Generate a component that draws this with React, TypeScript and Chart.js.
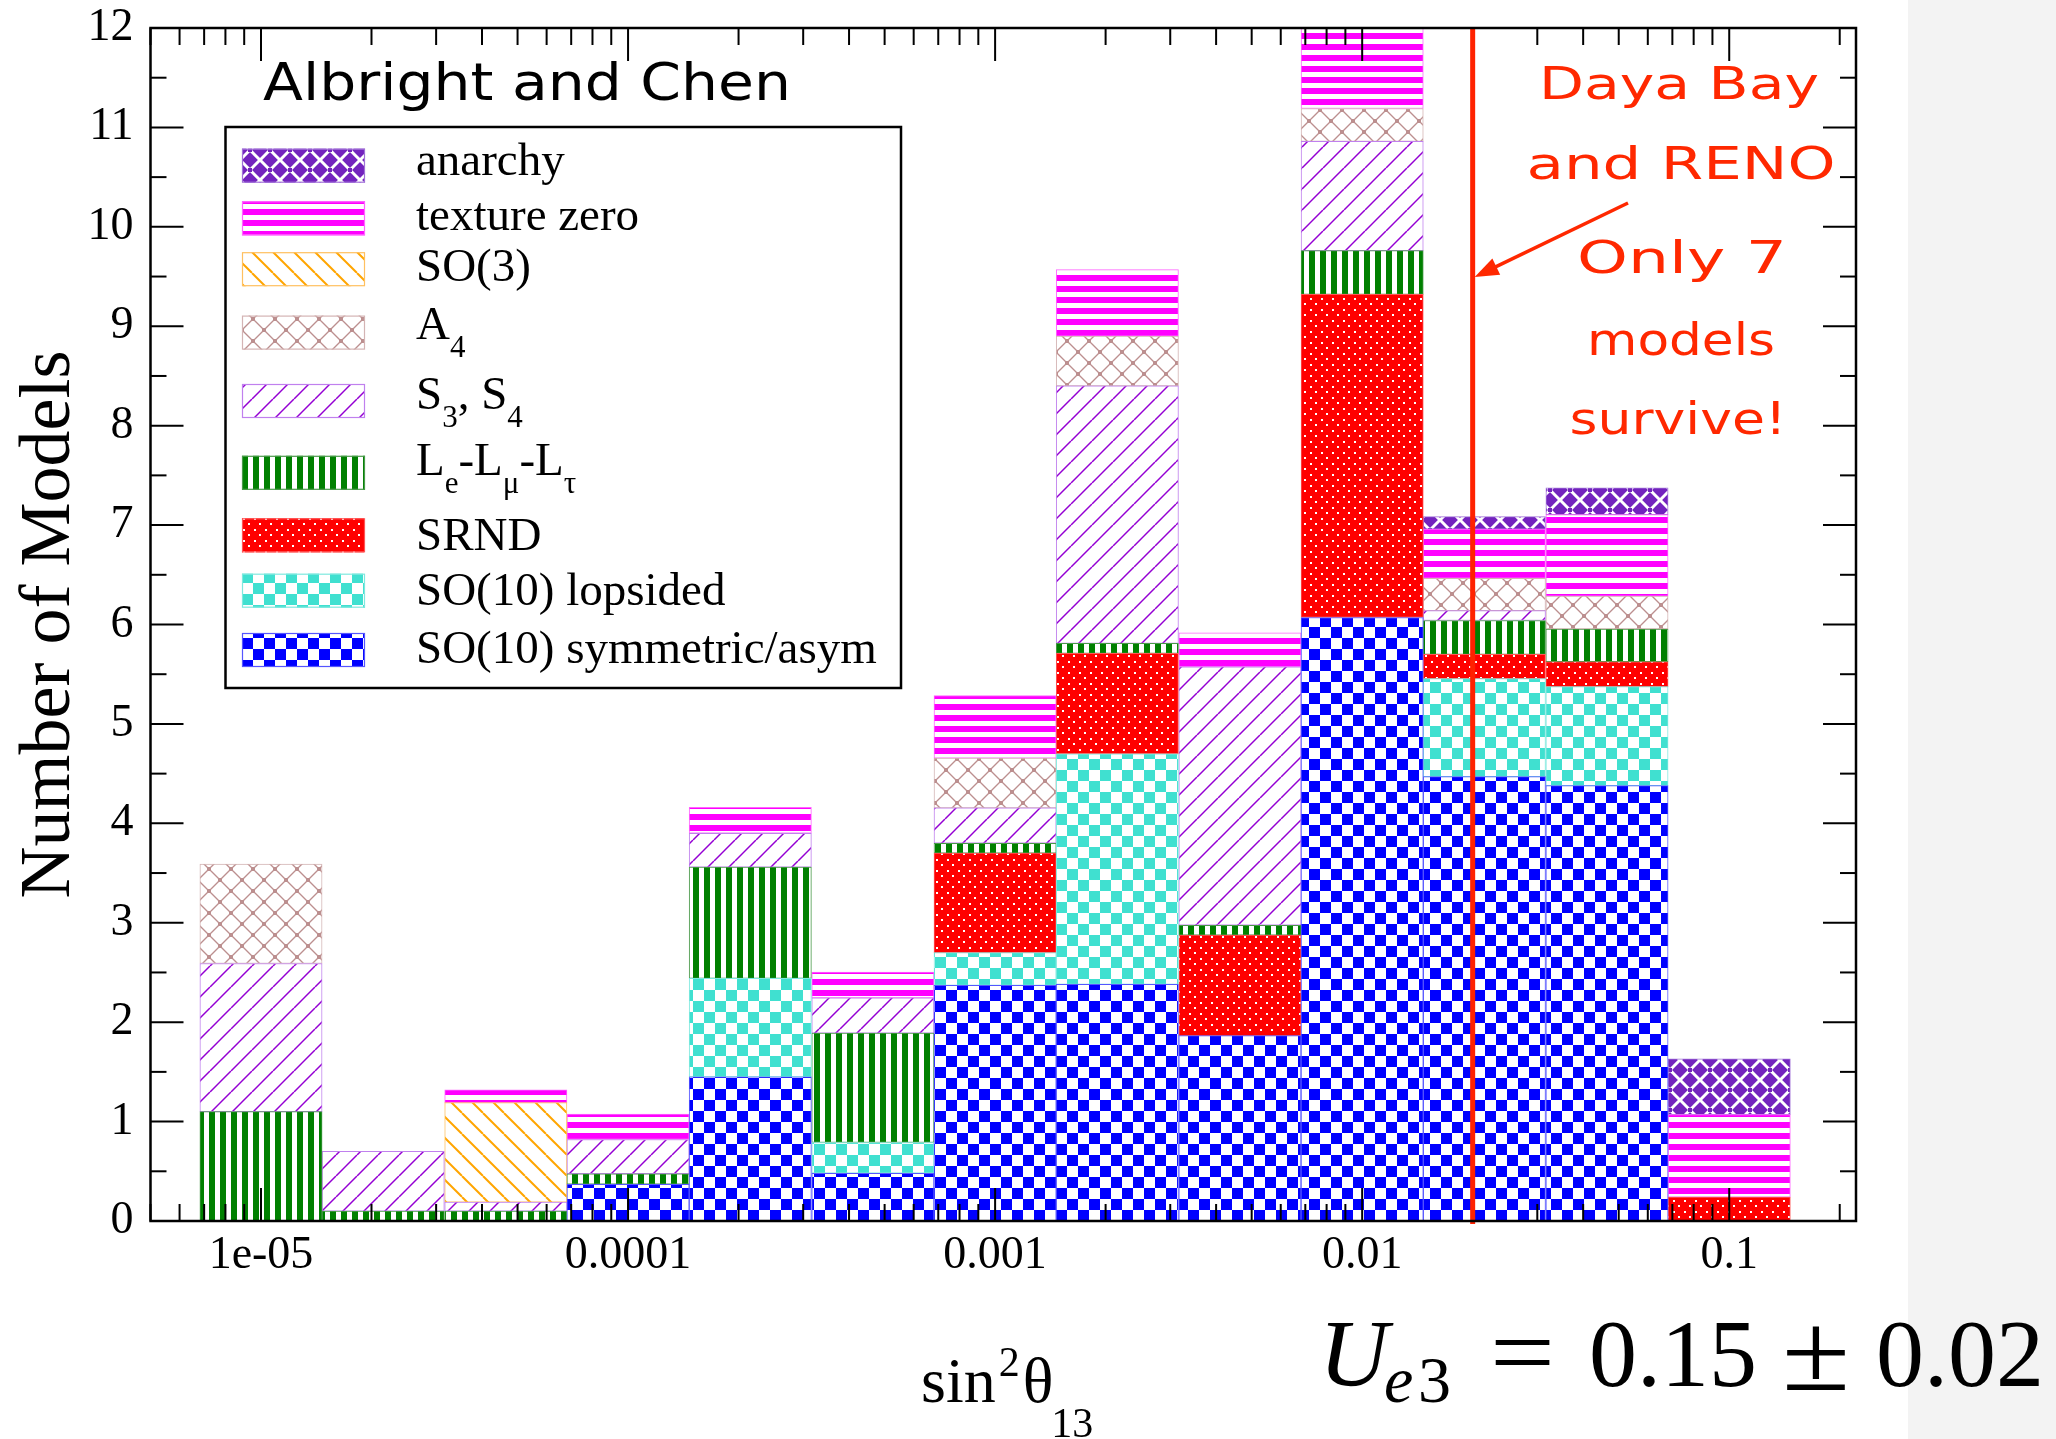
import { useEffect, useRef } from 'react';
import { Chart, registerables } from 'chart.js';

Chart.register(...registerables);

// ---------- data ----------
// bin centres, as log10(sin^2 theta13)
const binCenterExponents = [-5, -4.667, -4.333, -4, -3.667, -3.333, -3, -2.667, -2.333, -2, -1.667, -1.333, -1];

// stacked series (bottom to top)
const so10Symmetric = [0, 0, 0, 0.37, 1.45, 0.48, 2.37, 2.38, 1.865, 6.07, 4.47, 4.38, 0];
const so10Lopsided = [0, 0, 0, 0, 0.99, 0.31, 0.33, 2.32, 0, 0, 0.985, 0.995, 0];
const srnd = [0, 0, 0, 0, 0, 0, 1.0, 1.01, 1.01, 3.25, 0.245, 0.25, 0.24];
const leLmuLtau = [1.1, 0.1, 0.1, 0.105, 1.12, 1.1, 0.1, 0.1, 0.1, 0.44, 0.34, 0.33, 0];
const s3s4 = [1.49, 0.6, 0.09, 0.345, 0.34, 0.355, 0.356, 2.59, 2.6, 1.1, 0.1, 0, 0];
const a4 = [1.0, 0, 0, 0, 0, 0, 0.5, 0.5, 0, 0.33, 0.325, 0.33, 0];
const so3 = [0, 0, 1.0, 0, 0, 0, 0, 0, 0, 0, 0, 0, 0];
const textureZero = [0, 0, 0.13, 0.255, 0.26, 0.26, 0.63, 0.67, 0.34, 1.0, 0.495, 0.82, 0.83];
const anarchy = [0, 0, 0, 0, 0, 0, 0, 0, 0, 0, 0.125, 0.27, 0.56];

// axes
const xMinValue = 5e-6;
const xMaxValue = 0.2215;
const xTickExponents = [-5, -4, -3, -2, -1];
const xTickLabels = ['1e-05', '0.0001', '0.001', '0.01', '0.1'];
const yTickValues = [0, 1, 2, 3, 4, 5, 6, 7, 8, 9, 10, 11, 12];
const experimentValue = 0.02; // Daya Bay / RENO line

const SERIF = '"Liberation Serif", "Times New Roman", serif';
const HAND = '"DejaVu Sans", sans-serif';

function tile(w: number, h: number, draw: (c: CanvasRenderingContext2D) => void): CanvasPattern {
  const cv = document.createElement('canvas');
  cv.width = w;
  cv.height = h;
  const c = cv.getContext('2d')!;
  draw(c);
  return c.createPattern(cv, 'repeat')!;
}

function line(c: CanvasRenderingContext2D, x1: number, y1: number, x2: number, y2: number) {
  c.beginPath();
  c.moveTo(x1, y1);
  c.lineTo(x2, y2);
  c.stroke();
}

function makePatterns() {
  const checker = (col: string) =>
    tile(22, 22, (c) => {
      c.fillStyle = '#fff';
      c.fillRect(0, 0, 22, 22);
      c.fillStyle = col;
      c.fillRect(0, 0, 11, 11);
      c.fillRect(11, 11, 11, 11);
    });
  return {
    blue: checker('#0000ff'),
    turq: checker('#40e0d0'),
    red: tile(11, 11, (c) => {
      c.fillStyle = '#ff0000';
      c.fillRect(0, 0, 11, 11);
      c.fillStyle = '#fff';
      c.fillRect(1, 1, 2, 2);
      c.fillRect(6, 6, 2, 2);
    }),
    green: tile(11, 4, (c) => {
      c.fillStyle = '#fff';
      c.fillRect(0, 0, 11, 4);
      c.fillStyle = '#008000';
      c.fillRect(0, 0, 6, 4);
    }),
    magenta: tile(4, 11, (c) => {
      c.fillStyle = '#fff';
      c.fillRect(0, 0, 4, 11);
      c.fillStyle = '#ff00ff';
      c.fillRect(0, 0, 4, 6);
    }),
    violet: tile(21, 21, (c) => {
      c.fillStyle = '#fff';
      c.fillRect(0, 0, 21, 21);
      c.strokeStyle = '#9400d3';
      c.lineWidth = 1.5;
      for (const o of [-21, 0, 21]) line(c, o, 21, o + 21, 0);
    }),
    orange: tile(21, 21, (c) => {
      c.fillStyle = '#fff';
      c.fillRect(0, 0, 21, 21);
      c.strokeStyle = '#ffa500';
      c.lineWidth = 2;
      for (const o of [-21, 0, 21]) line(c, o, 0, o + 21, 21);
    }),
    rosy: tile(22, 22, (c) => {
      c.fillStyle = '#fff';
      c.fillRect(0, 0, 22, 22);
      c.strokeStyle = '#bc8f8f';
      c.lineWidth = 1.3;
      line(c, 0, 0, 22, 22);
      line(c, 22, 0, 0, 22);
      c.fillStyle = '#bc8f8f';
      c.fillRect(-2, -2, 4, 4);
      c.fillRect(20, -2, 4, 4);
      c.fillRect(-2, 20, 4, 4);
      c.fillRect(20, 20, 4, 4);
      c.fillRect(9, 9, 4, 4);
    }),
    purple: tile(20, 20, (c) => {
      c.fillStyle = '#7323be';
      c.fillRect(0, 0, 20, 20);
      c.strokeStyle = '#fff';
      c.lineWidth = 3;
      line(c, 0, 0, 20, 20);
      line(c, 20, 0, 0, 20);
      c.fillStyle = '#7323be';
      c.fillRect(8, 8, 4, 4);
    }),
  };
}

function drawRich(c: CanvasRenderingContext2D, text: string, x: number, baseline: number, size: number, subSize: number, drop: number) {
  const parts = text.split(/(_.)/);
  let cx = x;
  for (const p of parts) {
    if (!p) continue;
    if (p.startsWith('_')) {
      const s = p.slice(1);
      c.font = `${subSize}px ${SERIF}`;
      c.fillText(s, cx, baseline + drop);
      cx += c.measureText(s).width;
    } else {
      c.font = `${size}px ${SERIF}`;
      c.fillText(p, cx, baseline);
      cx += c.measureText(p).width;
    }
  }
}

function fitText(c: CanvasRenderingContext2D, text: string, x: number, baseline: number, font: string, targetWidth: number, center: boolean) {
  c.font = font;
  const w = c.measureText(text).width;
  const s = targetWidth / w;
  c.save();
  c.translate(center ? x - targetWidth / 2 : x, baseline);
  c.scale(s, 1);
  c.textAlign = 'left';
  c.textBaseline = 'alphabetic';
  c.fillText(text, 0, 0);
  c.restore();
}

const legendTops = [148.7, 201.3, 252.2, 315.6, 384, 455.8, 518.3, 573.7, 633];
const legendBaselines = [175.4, 229.9, 281, 339.3, 408.5, 474.6, 550, 605, 663];

const decorPlugin = {
  id: 'decor',
  beforeDraw(chart: any) {
    const { ctx, width, height } = chart;
    ctx.save();
    ctx.fillStyle = '#ffffff';
    ctx.fillRect(0, 0, width, height);
    ctx.fillStyle = '#f3f3f3';
    ctx.fillRect(1908, 0, width - 1908, height);
    ctx.restore();
  },
  afterDraw(chart: any) {
    const { ctx } = chart;
    const xs = chart.scales.x;
    const ys = chart.scales.y;
    const { left, right, top, bottom } = chart.chartArea;
    ctx.save();

    // inward ticks
    ctx.strokeStyle = '#000';
    ctx.lineWidth = 2;
    for (let d = -6; d <= 0; d++) {
      for (let m = 1; m <= 9; m++) {
        const v = d + Math.log10(m);
        if (v < xs.min || v > xs.max) continue;
        const px = xs.getPixelForValue(v);
        const len = m === 1 ? 33 : 17;
        line(ctx, px, bottom, px, bottom - len);
        line(ctx, px, top, px, top + len);
      }
    }
    for (let v = 0; v <= 12; v += 0.5) {
      const py = ys.getPixelForValue(v);
      const len = v % 1 === 0 ? 33 : 16;
      line(ctx, left, py, left + len, py);
      line(ctx, right, py, right - len, py);
    }

    // experiment line
    const lx = xs.getPixelForValue(Math.log10(experimentValue));
    ctx.strokeStyle = '#ff2200';
    ctx.lineWidth = 5;
    line(ctx, lx, top, lx, bottom + 3);

    // frame
    ctx.strokeStyle = '#000';
    ctx.lineWidth = 2.5;
    ctx.strokeRect(left, top, right - left, bottom - top);

    // annotation texts
    ctx.fillStyle = '#000';
    fitText(ctx, 'Albright and Chen', 263, 100, `51px ${HAND}`, 528, false);

    ctx.fillStyle = '#ff2800';
    const redFont = `44px ${HAND}`;
    fitText(ctx, 'Daya Bay', 1679, 99, redFont, 280, true);
    fitText(ctx, 'and RENO', 1681, 178.6, redFont, 309, true);
    fitText(ctx, 'Only 7', 1682, 273, redFont, 210, true);
    fitText(ctx, 'models', 1681, 355, redFont, 188, true);
    fitText(ctx, 'survive!', 1678, 434, redFont, 217, true);

    // arrow
    const ax1 = 1628, ay1 = 203, ax2 = lx + 2, ay2 = 277;
    ctx.strokeStyle = '#ff2800';
    ctx.lineWidth = 3.5;
    const ang = Math.atan2(ay2 - ay1, ax2 - ax1);
    line(ctx, ax1, ay1, ax2 - 14 * Math.cos(ang), ay2 - 14 * Math.sin(ang));
    ctx.beginPath();
    ctx.moveTo(ax2, ay2);
    ctx.lineTo(ax2 - 24 * Math.cos(ang) + 9 * Math.sin(ang), ay2 - 24 * Math.sin(ang) - 9 * Math.cos(ang));
    ctx.lineTo(ax2 - 24 * Math.cos(ang) - 9 * Math.sin(ang), ay2 - 24 * Math.sin(ang) + 9 * Math.cos(ang));
    ctx.closePath();
    ctx.fill();

    // legend
    ctx.fillStyle = '#fff';
    ctx.fillRect(225.5, 127, 675.5, 561);
    ctx.strokeStyle = '#000';
    ctx.lineWidth = 2.5;
    ctx.strokeRect(225.5, 127, 675.5, 561);
    const ds = [...chart.data.datasets].reverse();
    ds.forEach((d: any, i: number) => {
      const t = legendTops[i];
      ctx.fillStyle = d.backgroundColor;
      ctx.fillRect(242, t, 123, 34);
      ctx.strokeStyle = d.borderColor;
      ctx.lineWidth = 1.2;
      ctx.strokeRect(242.5, t + 0.5, 122, 33);
      ctx.fillStyle = '#000';
      ctx.textAlign = 'left';
      ctx.textBaseline = 'alphabetic';
      drawRich(ctx, d.legendText, 416, legendBaselines[i], 47, 31, 18);
    });

    // x-axis title: sin^2 theta_13
    ctx.fillStyle = '#000';
    ctx.textAlign = 'left';
    ctx.textBaseline = 'alphabetic';
    let cx = 921;
    ctx.font = `64px ${SERIF}`;
    ctx.fillText('sin', cx, 1402);
    cx += ctx.measureText('sin').width + 3;
    ctx.font = `42px ${SERIF}`;
    ctx.fillText('2', cx, 1376);
    cx += ctx.measureText('2').width + 3;
    ctx.font = `64px ${SERIF}`;
    ctx.fillText('θ', cx, 1402);
    cx += ctx.measureText('θ').width - 2;
    ctx.font = `42px ${SERIF}`;
    ctx.fillText('13', cx, 1437);

    // U_e3 = 0.15 ± 0.02
    ctx.font = `italic 96px ${SERIF}`;
    ctx.fillText('U', 1319, 1386);
    ctx.font = `italic 66px ${SERIF}`;
    ctx.fillText('e', 1384, 1402);
    ctx.font = `66px ${SERIF}`;
    ctx.fillText('3', 1418, 1402);
    fitText(ctx, '=', 1490, 1386, `100px ${SERIF}`, 65, false);
    ctx.font = `96px ${SERIF}`;
    ctx.fillText('0.15', 1589, 1386);
    fitText(ctx, '±', 1782, 1390, `112px ${SERIF}`, 68, false);
    ctx.font = `96px ${SERIF}`;
    ctx.fillText('0.02', 1876, 1386);

    ctx.restore();
  },
};

function zeroPadding(s: any) {
  s.paddingTop = 0;
  s.paddingBottom = 0;
  s.paddingLeft = 0;
  s.paddingRight = 0;
}

export default function App() {
  const ref = useRef<HTMLCanvasElement>(null);

  useEffect(() => {
    const canvas = ref.current;
    if (!canvas) return;
    const p = makePatterns();

    const spec = [
      { legendText: 'SO(10) symmetric/asym', values: so10Symmetric, bg: p.blue, border: '#5555ff' },
      { legendText: 'SO(10) lopsided', values: so10Lopsided, bg: p.turq, border: '#7fe9df' },
      { legendText: 'SRND', values: srnd, bg: p.red, border: '#ff5555' },
      { legendText: 'L_e-L_μ-L_τ', values: leLmuLtau, bg: p.green, border: '#4a9a4a' },
      { legendText: 'S_3, S_4', values: s3s4, bg: p.violet, border: '#c080ee' },
      { legendText: 'A_4', values: a4, bg: p.rosy, border: '#d4b4b4' },
      { legendText: 'SO(3)', values: so3, bg: p.orange, border: '#ffc060' },
      { legendText: 'texture zero', values: textureZero, bg: p.magenta, border: '#ff66ff' },
      { legendText: 'anarchy', values: anarchy, bg: p.purple, border: '#a070d8' },
    ];

    const datasets = spec.map((s) => ({
      label: s.legendText.replace(/_/g, ''),
      legendText: s.legendText,
      data: binCenterExponents.map((x, i) => ({ x, y: s.values[i] === 0 ? null : s.values[i] })),
      backgroundColor: s.bg,
      borderColor: s.border,
      borderWidth: 1,
      borderSkipped: false,
      categoryPercentage: 1,
      barPercentage: 1,
    }));

    const chart = new Chart(canvas, {
      type: 'bar',
      data: { datasets } as any,
      options: {
        animation: false,
        responsive: false,
        devicePixelRatio: 1,
        layout: { padding: { top: 28, right: 200, left: 0, bottom: 0 } },
        plugins: { legend: { display: false }, tooltip: { enabled: false } },
        scales: {
          x: {
            type: 'linear',
            stacked: true,
            offset: false,
            min: Math.log10(xMinValue),
            max: Math.log10(xMaxValue),
            grid: { display: false, drawTicks: false },
            border: { display: false },
            ticks: {
              font: { family: 'Liberation Serif', size: 46 },
              color: '#000',
              padding: 7,
              maxRotation: 0,
              autoSkip: false,
              callback: (_v: any, i: number) => xTickLabels[i],
            },
            afterBuildTicks: (s: any) => {
              s.ticks = xTickExponents.map((v) => ({ value: v }));
            },
            afterFit: (s: any) => {
              s.height = 218;
              zeroPadding(s);
            },
          },
          y: {
            type: 'linear',
            stacked: true,
            min: 0,
            max: 12,
            grid: { display: false, drawTicks: false },
            border: { display: false },
            ticks: {
              font: { family: 'Liberation Serif', size: 46 },
              color: '#000',
              padding: 17,
              autoSkip: false,
            },
            afterBuildTicks: (s: any) => {
              s.ticks = yTickValues.map((v) => ({ value: v }));
            },
            title: {
              display: true,
              text: 'Number of Models',
              color: '#000',
              font: { family: 'Liberation Serif', size: 72, lineHeight: 1.2 },
              padding: { top: 7, bottom: 0 },
            },
            afterFit: (s: any) => {
              s.width = 150.5;
              zeroPadding(s);
            },
          },
        },
      } as any,
      plugins: [decorPlugin],
    });

    return () => chart.destroy();
  }, []);

  return (
    <div style={{ position: 'fixed', left: 0, top: 0, width: 2056, height: 1439, background: '#fff' }}>
      <canvas ref={ref} width={2056} height={1439} style={{ display: 'block', width: 2056, height: 1439 }} />
    </div>
  );
}
